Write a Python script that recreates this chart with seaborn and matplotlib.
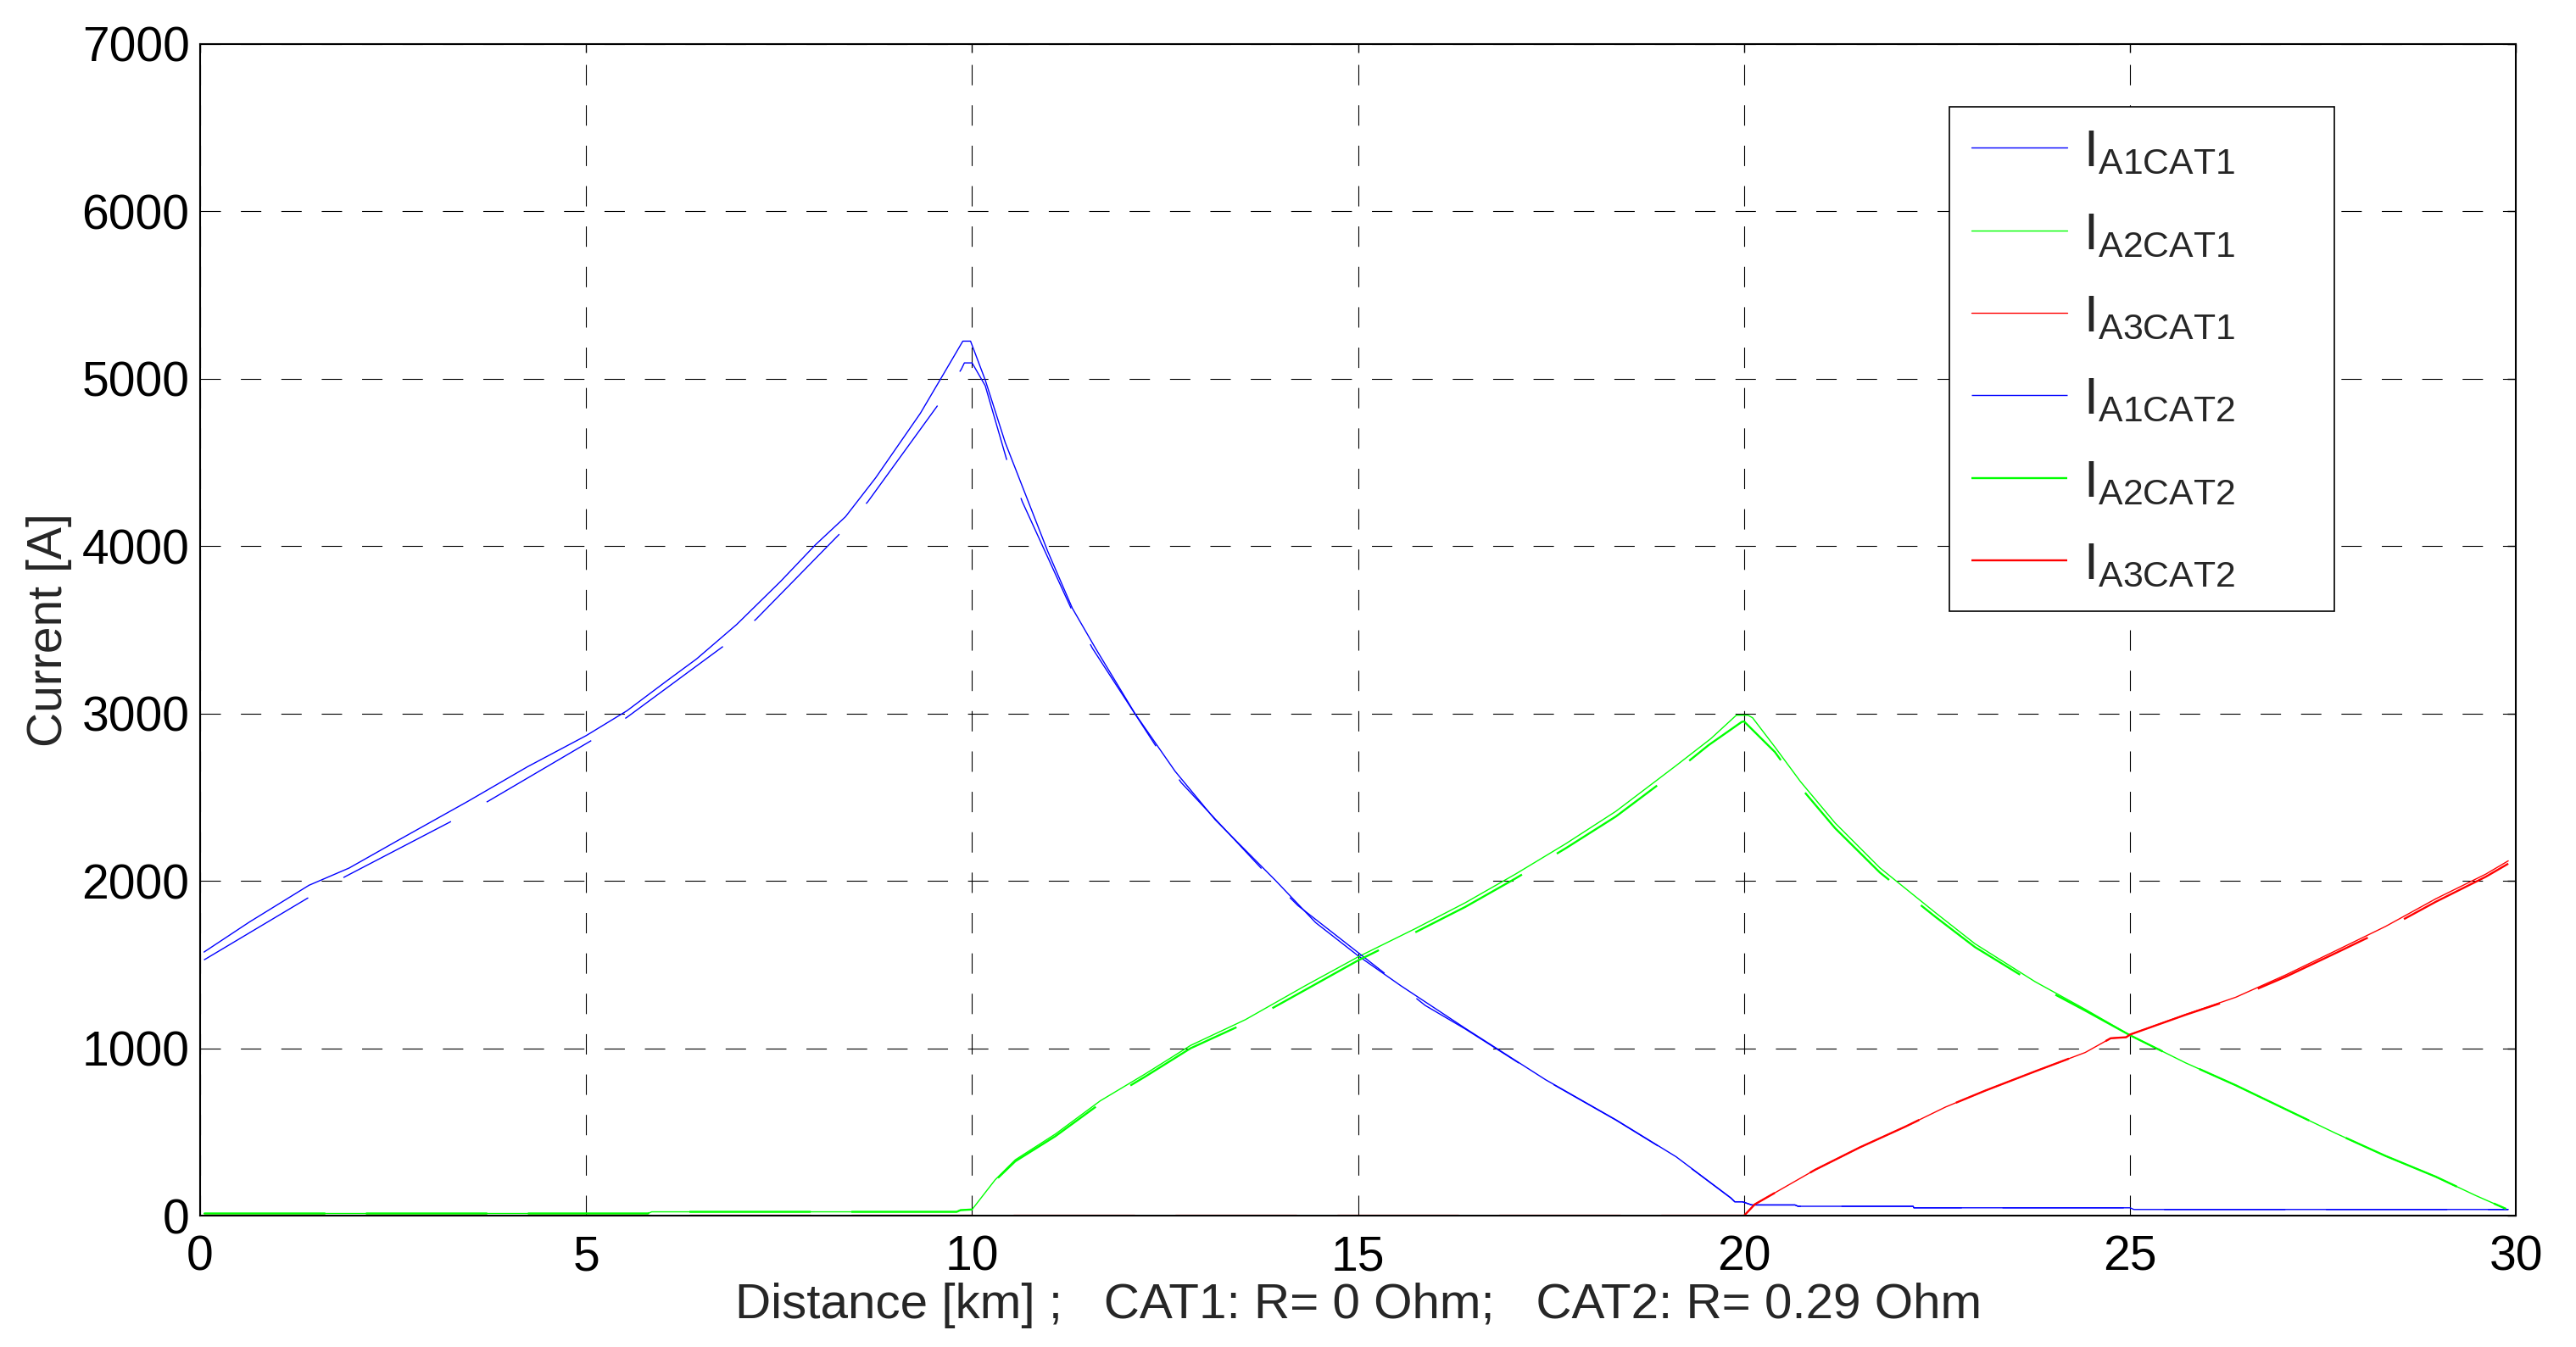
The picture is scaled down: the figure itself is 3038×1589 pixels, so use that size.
"""
Pantograph currents along the line - CAT1 vs CAT2
"""
import matplotlib
matplotlib.use("Agg")
import matplotlib.pyplot as plt
import seaborn as sns

# Data
km_a1_cat1 = [0.05, 0.64, 1.41, 1.93, 2.57, 3.47, 4.24, 5.0, 5.53, 6.05, 6.43, 6.95, 7.52, 7.97,
              8.36, 8.75, 9.33, 9.61, 9.88, 9.98, 10.17, 10.43, 10.69, 10.98, 11.30, 11.6, 12.11,
              12.63, 13.15, 13.93, 14.45, 15.0, 15.55, 16.39, 17.43, 18.34, 19.12, 19.83, 19.88,
              19.98, 20.1, 20.66, 20.7, 22.19, 22.2, 25.0, 25.05, 29.9]
i_a1_cat1 = [1575, 1755, 1974, 2077, 2244, 2476, 2682, 2868, 3017, 3197, 3326, 3532, 3790, 4008,
             4176, 4408, 4794, 5013, 5225, 5225, 4993, 4618, 4311, 3969, 3628, 3389, 3000,
             2655, 2365, 2003, 1751, 1553, 1375, 1119, 812, 573, 352, 106, 83,
             83, 64, 64, 56, 56, 47, 47, 37, 37]

km_a1_cat2 = [0.05, 1.41, 1.88, 3.27, 3.73, 5.08, 5.53, 6.78, 7.2, 8.3, 8.65, 9.57, 9.86, 9.9,
              10.0, 10.17, 10.46, 10.65, 11.3, 11.56, 12.4, 12.71, 13.85, 14.22, 15.45, 15.87,
              16.39, 17.43, 18.34, 19.12, 19.83, 19.88, 19.98, 20.1, 20.66, 20.7, 22.19, 22.2,
              25.0, 25.05, 29.9]
i_a1_cat2 = [1528, 1902, 2026, 2360, 2476, 2842, 2978, 3403, 3563, 4081, 4266, 4851, 5057, 5095,
             5095, 4959, 4498, 4266, 3611, 3389, 2792, 2587, 2024, 1853, 1410, 1256,
             1115, 810, 571, 350, 105, 83, 83, 64, 64, 56, 56, 47,
             47, 37, 37]

km_a2_cat1 = [0.05, 5.8, 5.85, 9.8, 9.85, 10.0, 10.3, 10.56, 11.08, 11.66, 12.24, 12.83, 13.54,
              14.32, 15.0, 15.75, 16.39, 17.04, 17.69, 18.34, 19.12, 19.57, 19.9, 20.05, 20.11,
              20.4, 20.73, 21.18, 21.76, 22.48, 22.99, 23.77, 24.42, 25.0, 25.72, 26.37, 27.02,
              27.67, 28.31, 28.96, 29.48, 29.87]
i_a2_cat1 = [13, 13, 23, 23, 33, 37, 215, 334, 488, 686, 846, 1017, 1171,
             1375, 1546, 1717, 1870, 2041, 2222, 2416, 2689, 2850, 2990, 2990, 2975,
             2800, 2594, 2346, 2078, 1810, 1625, 1398, 1233, 1078, 913, 779, 635,
             491, 357, 233, 120, 41]

km_a2_cat2 = [0.05, 5.8, 5.85, 9.8, 9.85, 10.0, 10.3, 10.56, 11.08, 11.66, 12.24, 12.83, 13.54,
              14.32, 15.0, 15.75, 16.39, 17.04, 17.69, 18.34, 19.12, 19.54, 19.97, 20.0, 20.4,
              20.73, 21.18, 21.76, 22.48, 22.99, 23.77, 24.42, 25.0, 25.72, 26.37, 27.02,
              27.67, 28.31, 28.96, 29.48, 29.87]
i_a2_cat2 = [13, 13, 23, 23, 33, 37, 210, 325, 475, 670, 830, 1000, 1150,
             1350, 1525, 1695, 1845, 2015, 2195, 2385, 2655, 2811, 2950, 2953, 2770,
             2560, 2315, 2050, 1785, 1605, 1385, 1225, 1078, 913, 779, 635,
             491, 357, 233, 120, 41]

km_a3_cat1 = [0.05, 20.0, 20.14, 20.53, 20.92, 21.5, 22.09, 22.61, 23.13, 23.77, 24.42, 24.75,
              24.95, 25.0, 25.72, 26.37, 27.02, 27.67, 28.31, 28.96, 29.61, 29.9]
i_a3_cat1 = [0, 0, 68, 171, 274, 408, 532, 649, 748, 862, 975, 1060,
             1066, 1082, 1202, 1305, 1439, 1584, 1728, 1893, 2041, 2120]

km_a3_cat2 = [0.05, 20.0, 20.14, 20.53, 20.92, 21.5, 22.09, 22.61, 23.13, 23.77, 24.42, 24.75,
              24.95, 25.0, 25.72, 26.37, 27.02, 27.67, 28.31, 28.96, 29.61, 29.9]
i_a3_cat2 = [0, 0, 68, 171, 274, 408, 532, 649, 748, 862, 975, 1060,
             1066, 1082, 1200, 1300, 1428, 1570, 1712, 1875, 2025, 2103]

x_ticks = [0, 5, 10, 15, 20, 25, 30]
y_ticks = [0, 1000, 2000, 3000, 4000, 5000, 6000, 7000]

# Style
sns.set_style("white")
plt.rcParams["font.family"] = ["Liberation Sans", "DejaVu Sans"]
plt.rcParams["mathtext.default"] = "regular"
plt.rcParams["lines.scale_dashes"] = False

DASHED = (0, (103, 34.5))
THIN = 1.0
THICK = 1.7

fig = plt.figure(figsize=(30.38, 15.89), dpi=100)
ax = fig.add_axes([0.0777, 0.0975, 0.899, 0.8698])

series = [
    (km_a1_cat1, i_a1_cat1, "#0000ff", THIN, "-", r"$I_{A1CAT1}$"),
    (km_a2_cat1, i_a2_cat1, "#00ff00", THIN, "-", r"$I_{A2CAT1}$"),
    (km_a3_cat1, i_a3_cat1, "#ff0000", THIN, "-", r"$I_{A3CAT1}$"),
    (km_a1_cat2, i_a1_cat2, "#0000ff", THIN, DASHED, r"$I_{A1CAT2}$"),
    (km_a2_cat2, i_a2_cat2, "#00ff00", THICK, DASHED, r"$I_{A2CAT2}$"),
    (km_a3_cat2, i_a3_cat2, "#ff0000", THICK, DASHED, r"$I_{A3CAT2}$"),
]
for xs, ys, col, lw, ls, lab in series:
    sns.lineplot(x=xs, y=ys, ax=ax, color=col, linewidth=lw, linestyle=ls,
                 label=lab, sort=False, estimator=None)

ax.set_xlim(0, 30)
ax.set_ylim(0, 7000)
ax.set_xticks(x_ticks)
ax.set_yticks(y_ticks)
ax.grid(True, color="black", linewidth=0.8, linestyle=(0, (17.3, 17)))
ax.tick_params(direction="in", length=7, width=1, top=True, right=True,
               labelsize=41, colors="black")
ax.tick_params(axis="x", pad=16)
ax.tick_params(axis="y", pad=9)
for sp in ax.spines.values():
    sp.set_visible(True)
    sp.set_color("black")
    sp.set_linewidth(1.5)

ax.set_xlabel("Distance [km] ;   CAT1: R= 0 Ohm;   CAT2: R= 0.29 Ohm", fontsize=42, labelpad=2)
ax.set_ylabel("Current [A]", fontsize=41, labelpad=8)

leg = ax.legend(loc="upper left", bbox_to_anchor=(0.7555, 0.0, 0.1661, 0.9465), mode="expand",
                borderaxespad=0, fontsize=44, frameon=True, fancybox=False, shadow=False,
                framealpha=1, handlelength=1.85, handletextpad=0.3, labelspacing=0.66,
                borderpad=0.42)
leg.get_frame().set_edgecolor("black")
leg.get_frame().set_linewidth(1.2)

fig.savefig("out.png", dpi=100)
